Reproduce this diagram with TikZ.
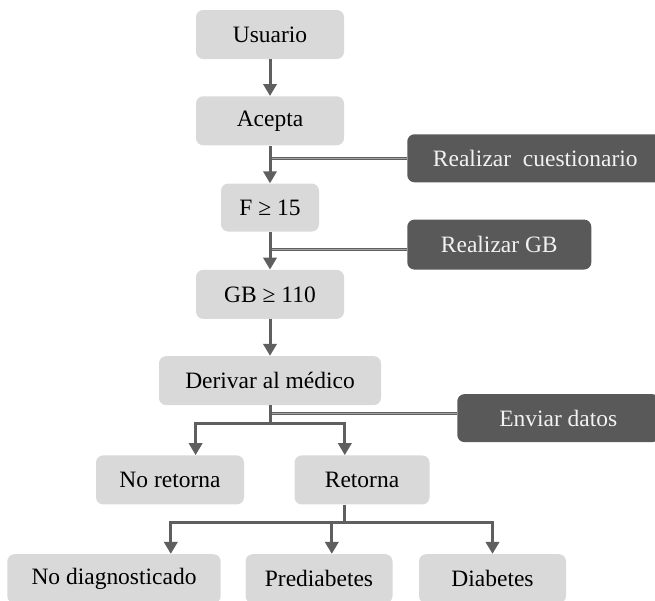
\documentclass[tikz,border=0pt]{standalone}
\usepackage{fontspec}
\setmainfont{Liberation Serif}
\usetikzlibrary{arrows.meta,positioning}

\definecolor{boxgray}{HTML}{D9D9D9}
\definecolor{boxdark}{HTML}{595959}
\definecolor{boxtext}{HTML}{F2F2F2}
\definecolor{linegray}{HTML}{5F5F5F}
\definecolor{sidegray}{HTML}{A3A3A3}

\tikzset{
    lightbox/.style={fill=boxgray, rounded corners=0.18cm, minimum height=1.225cm, inner sep=0pt, font=\fontsize{16.7}{20}\selectfont},
    darkbox/.style={fill=boxdark, text=boxtext, rounded corners=0.18cm, minimum height=1.2cm, inner sep=0pt, font=\fontsize{16.7}{20}\selectfont},
    flow/.style={->, draw=linegray, line width=0.075cm},
    plain/.style={draw=linegray, line width=0.075cm},
    side/.style={draw=linegray, line width=0.7pt, double=sidegray, double distance=0.9pt},
}

\begin{document}
\begin{tikzpicture}[>={Triangle[width=0.33cm, length=0.3cm]}]
        \path[use as bounding box, clip] (0,0) rectangle (16.375,-15);

        \node[lightbox, minimum width=3.7cm] (usuario) at (6.75,-0.8625) {Usuario};
        \node[lightbox, minimum width=3.7cm] (acepta) at ([yshift=-1.5375cm]usuario.south) {Acepta};
        \node[lightbox, minimum width=2.45cm, minimum height=1.2cm] (f15) at ([yshift=-1.55cm]acepta.south) {F ≥ 15};
        \node[lightbox, minimum width=3.7cm] (gb) at ([yshift=-1.5625cm]f15.south) {GB ≥ 110};
        \node[lightbox, minimum width=5.55cm] (derivar) at ([yshift=-1.5375cm]gb.south) {Derivar al médico};

        \node[lightbox, minimum width=3.7cm] (noret) at ([xshift=-2.5cm, yshift=-1.8625cm]derivar.south) {No retorna};
        \node[lightbox, minimum width=3.375cm] (ret) at ([xshift=2.3cm, yshift=-1.8625cm]derivar.south) {Retorna};

        \node[lightbox, minimum width=5.335cm] (nodiag) at ([xshift=-6.2cm, yshift=-1.85cm]ret.south) {No diagnosticado};
        \node[lightbox, minimum width=3.675cm] (prediab) at ([xshift=-1.075cm, yshift=-1.85cm]ret.south) {Prediabetes};
        \node[lightbox, minimum width=3.675cm] (diab) at ([xshift=3.2625cm, yshift=-1.85cm]ret.south) {Diabetes};

        \node[darkbox, minimum width=6.4cm] (cuest) at ([xshift=4.775cm, yshift=-0.9375cm]acepta.east) {Realizar~~cuestionario};
        \node[darkbox, minimum width=4.6cm, minimum height=1.25cm] (realgb) at ([xshift=4.5cm, yshift=-0.925cm]f15.east) {Realizar GB};
        \node[darkbox, minimum width=5.05cm] (enviar) at ([xshift=4.425cm, yshift=-0.9375cm]derivar.east) {Enviar datos};

        % side tasks
        \coordinate (gbjoin) at ([yshift=-0.13cm]realgb.west);
        \coordinate (sendjoin) at ([yshift=0.11cm]enviar.west);
        \draw [side] (cuest.west) -- (cuest.west -| acepta.south);
        \draw [side] (gbjoin) -- (gbjoin -| f15.south);
        \draw [side] (sendjoin) -- (sendjoin -| derivar.south);

        % main column
        \draw [flow] (usuario) -- (acepta);
        \draw [flow] (acepta) -- (f15);
        \draw [flow] (f15) -- (gb);
        \draw [flow] (gb) -- (derivar);

        \coordinate (split) at ([yshift=-0.45cm]derivar.south);
        \draw [plain] (derivar.south) -- (split);
        \draw [flow] (split) -| ([xshift=0.64cm]noret.north);
        \draw [flow] (split) -| ([xshift=-0.43cm]ret.north);

        \coordinate (fork) at ([xshift=-0.43cm, yshift=-0.45cm]ret.south);
        \draw [plain] ([xshift=-0.43cm]ret.south) -- (fork);
        \draw [flow] (fork) -| ([xshift=1.42cm]nodiag.north);
        \draw [flow] (fork) -| ([xshift=0.32cm]prediab.north);
        \draw [flow] (fork) -| (diab.north);

    \end{tikzpicture}
\end{document}
